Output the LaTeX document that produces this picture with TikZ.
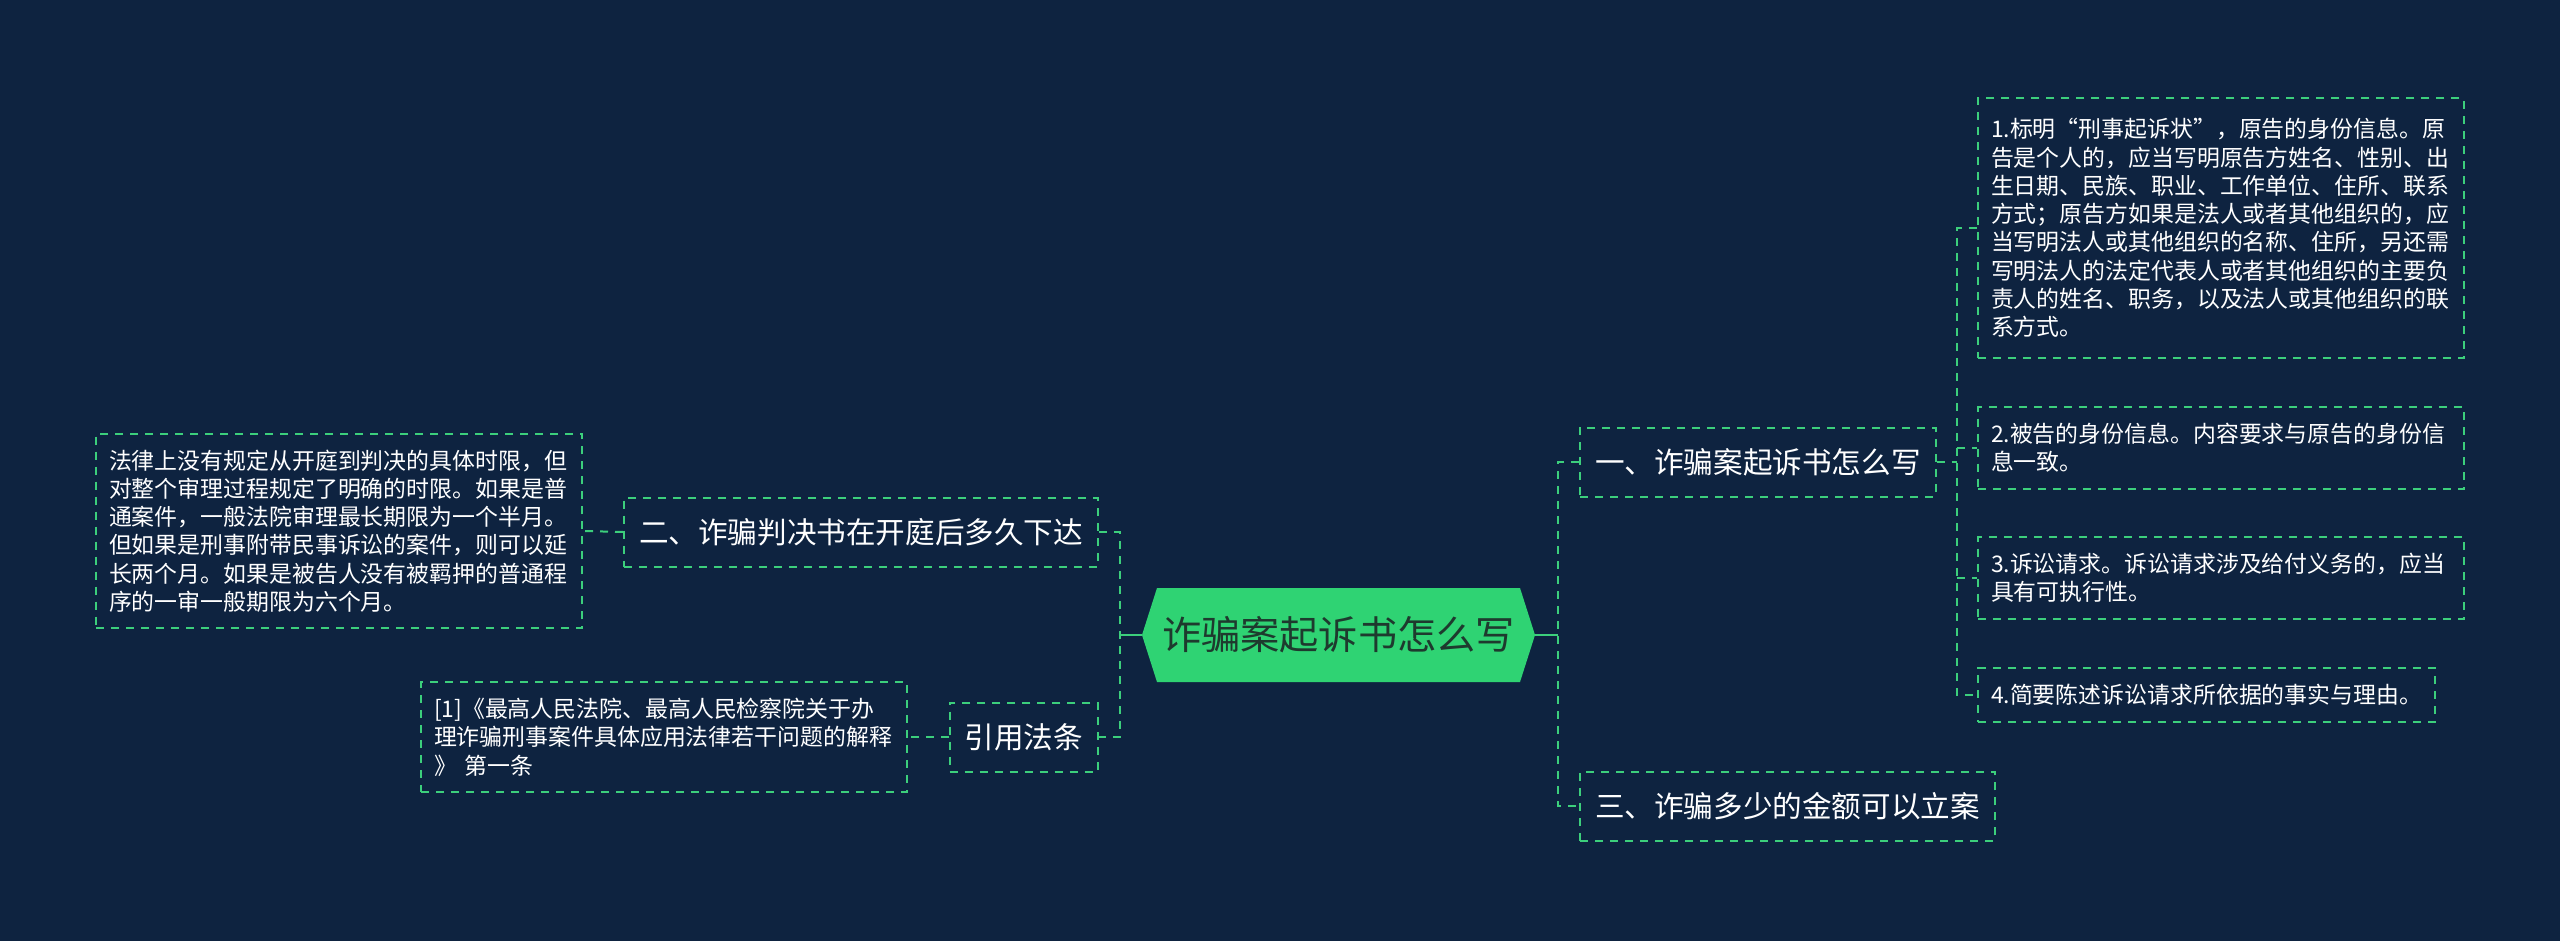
\documentclass[tikz,border=0pt]{standalone}
\usepackage{fontspec}
\setmainfont{Noto Sans CJK SC}
\definecolor{bgnavy}{HTML}{0E2340}
\definecolor{mapgreen}{HTML}{2FD373}
\definecolor{linegreen}{HTML}{3CCF7C}
\definecolor{hubink}{HTML}{1E3A2E}

\begin{document}
\begin{tikzpicture}[x=0.5pt,y=-0.5pt,hub/.style={fill=mapgreen},hubtext/.style={inner sep=0pt,minimum width=181.5pt,minimum height=47pt,text=hubink,font=\fontsize{19.6pt}{23pt}\selectfont},topic/.style={draw=linegreen,line width=1pt,dash pattern=on 4pt off 3.5pt,inner xsep=7.5pt,inner ysep=0pt,minimum height=34.5pt,text=white,font=\fontsize{14.8pt}{18pt}\selectfont},leaf/.style={draw=linegreen,line width=1pt,dash pattern=on 4pt off 3.5pt,inner xsep=6.5pt,inner ysep=8pt,align=left,text=white,font=\fontsize{11.45pt}{14.15pt}\selectfont},wideleaf/.style={leaf,text width=230pt},link/.style={draw=linegreen,line width=1pt,dash pattern=on 4pt off 3.5pt},stub/.style={draw=linegreen,line width=1pt}]
\fill[bgnavy] (0,0) rectangle (2560,941);
\useasboundingbox (0,0) rectangle (2560,941);
\coordinate (tipW) at (1142,635);
\coordinate (tipE) at (1535,635);
\coordinate (jl) at (1120,635);
\coordinate (jr) at (1558,635);
\coordinate (jr1) at (1957,462);
\fill[hub] (1157,588) -- (1520,588) -- (tipE) -- (1520,682) -- (1157,682) -- (tipW) -- cycle;
\node[hubtext] (root) at (1338.5,635) {诈骗案起诉书怎么写};
\node[topic,anchor=west] (b1) at (1579,462) {一、诈骗案起诉书怎么写};
\node[topic,anchor=west] (b3) at (1579,806) {三、诈骗多少的金额可以立案};
\node[topic,anchor=east] (b2) at (1099,532) {二、诈骗判决书在开庭后多久下达};
\node[topic,anchor=east] (law) at (1099,737) {引用法条};
\node[wideleaf,inner ysep=10pt,anchor=west] (r1) at (1977,228) {1.标明“刑事起诉状”，原告的身份信息。原\\告是个人的，应当写明原告方姓名、性别、出\\生日期、民族、职业、工作单位、住所、联系\\方式；原告方如果是法人或者其他组织的，应\\当写明法人或其他组织的名称、住所，另还需\\写明法人的法定代表人或者其他组织的主要负\\责人的姓名、职务，以及法人或其他组织的联\\系方式。};
\node[wideleaf,anchor=west] (r2) at (1977,448) {2.被告的身份信息。内容要求与原告的身份信\\息一致。};
\node[wideleaf,anchor=west] (r3) at (1977,578) {3.诉讼请求。诉讼请求涉及给付义务的，应当\\具有可执行性。};
\node[leaf,anchor=west] (r4) at (1977,695) {4.简要陈述诉讼请求所依据的事实与理由。};
\node[wideleaf,anchor=east] (l1) at (583,531) {法律上没有规定从开庭到判决的具体时限，但\\对整个审理过程规定了明确的时限。如果是普\\通案件，一般法院审理最长期限为一个半月。\\但如果是刑事附带民事诉讼的案件，则可以延\\长两个月。如果是被告人没有被羁押的普通程\\序的一审一般期限为六个月。};
\node[wideleaf,anchor=east] (l2) at (908,737) {[1]《最高人民法院、最高人民检察院关于办\\理诈骗刑事案件具体应用法律若干问题的解释\\》 第一条};
\draw[stub] (jl) -- (tipW);
\draw[stub] (tipE) -- (jr);
\draw[link] (b2.east) -| (jl) |- (law.east);
\draw[link] (b1.west) -| (jr) |- (b3.west);
\draw[link] (b1.east) -- (jr1);
\draw[link] (r1.west) -| (jr1) |- (r4.west);
\draw[link] (jr1 |- r2.west) -- (r2.west);
\draw[link] (jr1 |- r3.west) -- (r3.west);
\draw[link] (b2.west) -- (l1.east);
\draw[link] (law.west) -- (l2.east);
\end{tikzpicture}
\end{document}
